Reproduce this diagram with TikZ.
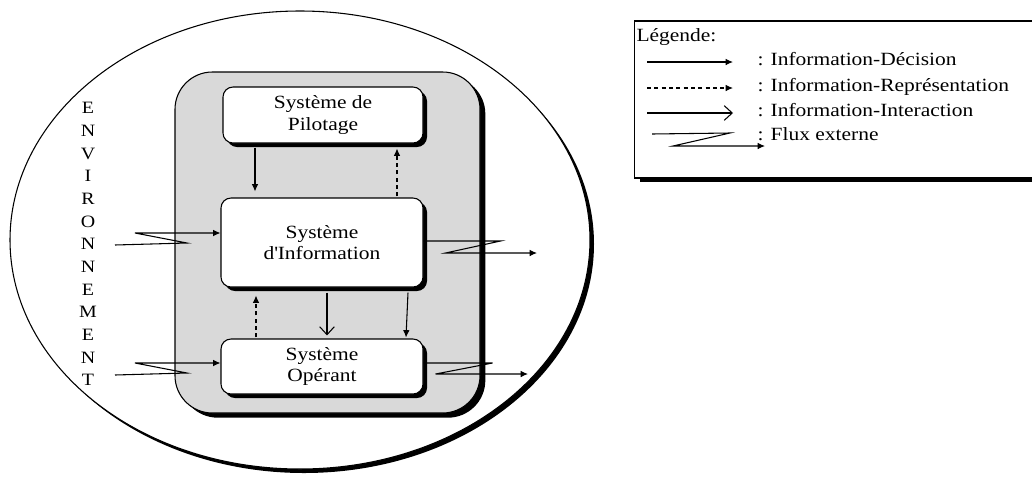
\documentclass[tikz,border=0pt]{standalone}
\usepackage{fontspec}
\setmainfont{Liberation Serif}[FakeStretch=1.15]
\usetikzlibrary{arrows.meta,shadows,shapes.geometric,calc}

\begin{document}
\begin{tikzpicture}[x=0.75pt, y=-0.75pt, line width=0.8pt, font=\fontsize{14}{16}\selectfont,
    shade/.style={drop shadow={shadow xshift=3pt, shadow yshift=-3pt, fill=black, opacity=1}},
    sys/.style={draw, fill=white, rounded corners=7.5pt, align=center, inner sep=0pt, minimum width=151.5pt, shade},
    txt/.style={anchor=base west, inner sep=0pt},
    decision/.style={-{Latex[length=5.5pt, width=5pt]}},
    repres/.style={decision, dash pattern=on 3pt off 2.5pt},
    interact/.style={-{Straight Barb[length=6pt, width=11pt]}},
    flux/.style={-{Latex[length=5.5pt, width=5pt]}}]

    \useasboundingbox (0,0) rectangle (1032,476);
    \clip (0,0) rectangle (1032,476);

    \node[ellipse, draw, fill=white, inner sep=0pt, minimum width=435pt, minimum height=343.5pt, shade] (env) at (300,240) {};
    \node[draw, fill=black!15, rounded corners=28pt, inner sep=0pt, minimum width=228.75pt, minimum height=255.75pt,
        drop shadow={shadow xshift=4pt, shadow yshift=-3.5pt, fill=black, opacity=1}] (cadre) at (327.5,242.5) {};

    \node[sys, minimum width=150pt, minimum height=42pt] (pil) at (323,115) {Système de\\Pilotage};
    \node[sys, minimum height=66.75pt] (inf) at (322,242.5) {Système\\d\textquotesingle Information};
    \node[sys, minimum height=41.25pt] (ope) at (322,366.5) {Système\\Opérant};

    \node[align=center, inner sep=0pt, font=\fontsize{13}{17}\selectfont] (envlabel) at (88,244)
        {E\\N\\V\\I\\R\\O\\N\\N\\E\\M\\E\\N\\T};

    \path
        ($(pil.south)+(-68,4)$) edge[decision] ($(inf.north)+(-67,-6)$)
        ($(inf.north)+(75,-1)$) edge[repres] ($(pil.south)+(74,5)$)
        ($(ope.north)+(-66,-1)$) edge[repres] ($(inf.south)+(-66,8)$)
        ($(inf.south)+(5,5)$) edge[interact] ($(ope.north)+(5,-3)$)
        ($(inf.south)+(86,5)$) edge[decision] ($(ope.north)+(84,-1)$)
        ;

    \coordinate (in1) at (115,245);
    \coordinate (in2) at (115,375);
    \coordinate (out1) at (537,253);
    \coordinate (out2) at (528,374);
    \draw[flux] (in1) -- ++(72,-2) -- ++(-52,-10) -- ($(inf.west)+(0,-9.5)$);
    \draw[flux] (in2) -- ++(72,-2) -- ++(-52,-10) -- ($(ope.west)+(0,-3.5)$);
    \draw[flux] ($(inf.east)+(0,-1.5)$) -- ++(77,0) -- ++(-55,12) -- (out1);
    \draw[flux] ($(ope.east)+(0,-3.5)$) -- ++(69,0) -- ++(-57,11) -- (out2);

    \node[draw, fill=white, inner sep=0pt, minimum width=308pt, minimum height=117.75pt,
        drop shadow={shadow xshift=4pt, shadow yshift=-3pt, fill=black, opacity=1}] (legende) at (839.5,99.5) {};
    \node[txt] (legtitre) at (636,41) {Légende:};
    \node[txt] (leg1) at (757,65) {: Information-Décision};
    \node[txt] (leg2) at (757,91) {: Information-Représentation};
    \node[txt] (leg3) at (757,116) {: Information-Interaction};
    \node[txt] (leg4) at (757,140) {: Flux externe};

    \draw[decision] ($(leg1.base west)+(-110,-3)$) -- ($(leg1.base west)+(-24,-3)$);
    \draw[repres] ($(leg2.base west)+(-110,-3)$) -- ($(leg2.base west)+(-24,-3)$);
    \draw[interact] ($(leg3.base west)+(-110,-3)$) -- ($(leg3.base west)+(-24,-3)$);
    \draw[flux] ($(leg4.base west)+(-105,-6)$) -- ++(78,-1) -- ++(-57,13) -- ($(leg4.base west)+(8,6)$);
\end{tikzpicture}
\end{document}
